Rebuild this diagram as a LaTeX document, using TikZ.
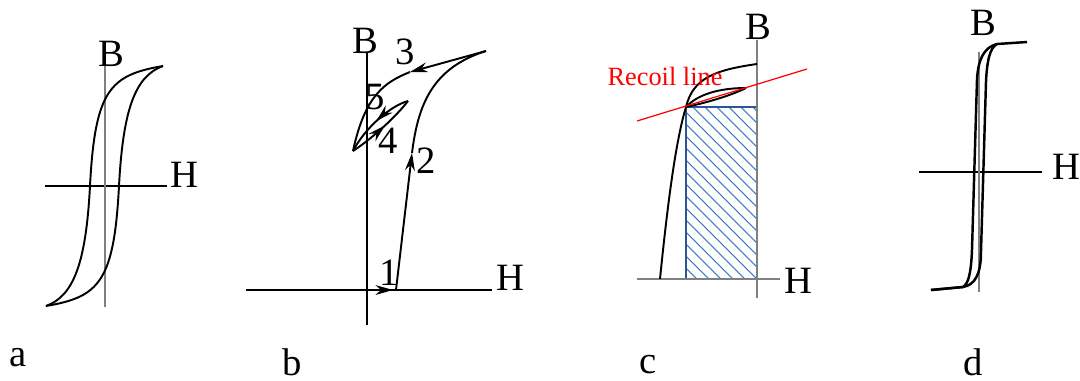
\documentclass[tikz,border=0pt]{standalone}
\usepackage{fontspec}
\setmainfont{Liberation Serif}
\usetikzlibrary{arrows.meta,decorations.markings}
\definecolor{axisgray}{HTML}{808080}
\definecolor{recoilred}{HTML}{FF0000}
\definecolor{hatchblue}{HTML}{3B7BC8}
\definecolor{edgeblue}{HTML}{2F5597}

\begin{document}
\begin{tikzpicture}[
  x=0.1mm, y=-0.1mm,
  font=\fontsize{11}{13}\selectfont,
  axisline/.style={line width=0.35pt},
  grayaxis/.style={axisgray, line width=0.4pt},
  loopline/.style={line width=0.55pt},
  tip/.style={-{Stealth[length=5pt,width=2.8pt]}},
  midarrow/.style={postaction={decorate}, decoration={markings,
    mark=at position #1 with {\arrow{Stealth[length=5pt,width=2.8pt]}}}},
  lbl/.style={inner sep=0pt}
]
\useasboundingbox (0,0) rectangle (1080,380);

% Panel a: wide loop
\draw[axisline] (45,186) -- (167,186);
\draw[grayaxis] (105,63) -- (105,307);
\draw[loopline] (163,66) .. controls (110,75) and (95,90) .. (90,186)
  .. controls (86,262) and (74,296) .. (46,306);
\draw[loopline] (46,306) .. controls (99,297) and (114,282) .. (119,186)
  .. controls (123,110) and (135,76) .. (163,66);
\node[lbl] (aB) at (111,54) {B};
\node[lbl] (aH) at (184,175) {H};
\node[lbl] (aname) at (18,358) {a};

% Panel b: initial curve and minor loop
\draw[axisline] (246,290) -- (492,290);
\draw[axisline] (367,52) -- (367,325);
\draw[axisline, tip] (367,290) -- (393,290);
\draw[loopline, tip] (396,290) -- (412,153);
\draw[loopline] (412,153) .. controls (418,105) and (432,68) .. (486,51);
\draw[loopline, tip] (486,51) -- (410,72);
\draw[loopline] (410,72) .. controls (385,82) and (365,95) .. (353,151);
\draw[loopline, midarrow=0.5] (408,101) .. controls (390,106) and (365,128) .. (353,151);
\draw[loopline, midarrow=0.55] (353,151) .. controls (370,140) and (395,118) .. (408,101);
\node[lbl] (bB) at (365,41) {B};
\node[lbl] (bH) at (510,278) {H};
\node[lbl] (bone) at (389,273) {1};
\node[lbl] (btwo) at (426,161) {2};
\node[lbl] (bthree) at (405,52) {3};
\node[lbl] (bfour) at (388,141) {4};
\node[lbl] (bfive) at (375,97) {5};
\node[lbl] (bname) at (292,362) {b};

% Panel c: second quadrant with recoil line
\begin{scope}
  \clip (686,107) rectangle (757,279);
  \foreach \k in {-15,...,5}
    \draw[hatchblue, line width=0.3pt] ({693+12*\k},107) -- ++(200,200);
\end{scope}
\draw[edgeblue, line width=0.4pt] (686,279) -- (686,107) -- (757,107);
\draw[grayaxis] (637,279) -- (780,279);
\draw[grayaxis] (757,40) -- (757,298);
\draw[loopline] (660,279) .. controls (668,200) and (676,140) .. (686,107)
  .. controls (693,78) and (715,70) .. (757,64);
\draw[loopline] (686,107) .. controls (700,92) and (725,88) .. (746,88);
\draw[loopline] (686,107) .. controls (705,103) and (730,96) .. (746,88);
\draw[recoilred, line width=0.35pt] (637,121) -- (807,69);
\node[lbl, text=recoilred, font=\fontsize{7.5}{9}\selectfont] (recoil) at (665,76) {Recoil line};
\node[lbl] (cB) at (758,27) {B};
\node[lbl] (cH) at (798,281) {H};
\node[lbl] (cname) at (648,365) {c};

% Panel d: narrow square loop
\draw[axisline] (919,172) -- (1042,172);
\draw[grayaxis] (979,52) -- (979,292);
\draw[line width=0.7pt] (1027,42) -- (997,44) .. controls (985,47) and (978,58) .. (977,80)
  -- (972,250) .. controls (971,275) and (968,284) .. (963,287) -- (931,290);
\draw[line width=0.7pt] (931,290) -- (963,287) .. controls (975,285) and (981,274) .. (981,252)
  -- (986,82) .. controls (987,60) and (990,48) .. (997,44);
\node[lbl] (dB) at (983,23) {B};
\node[lbl] (dH) at (1066,167) {H};
\node[lbl] (dname) at (973,362) {d};

\end{tikzpicture}
\end{document}
